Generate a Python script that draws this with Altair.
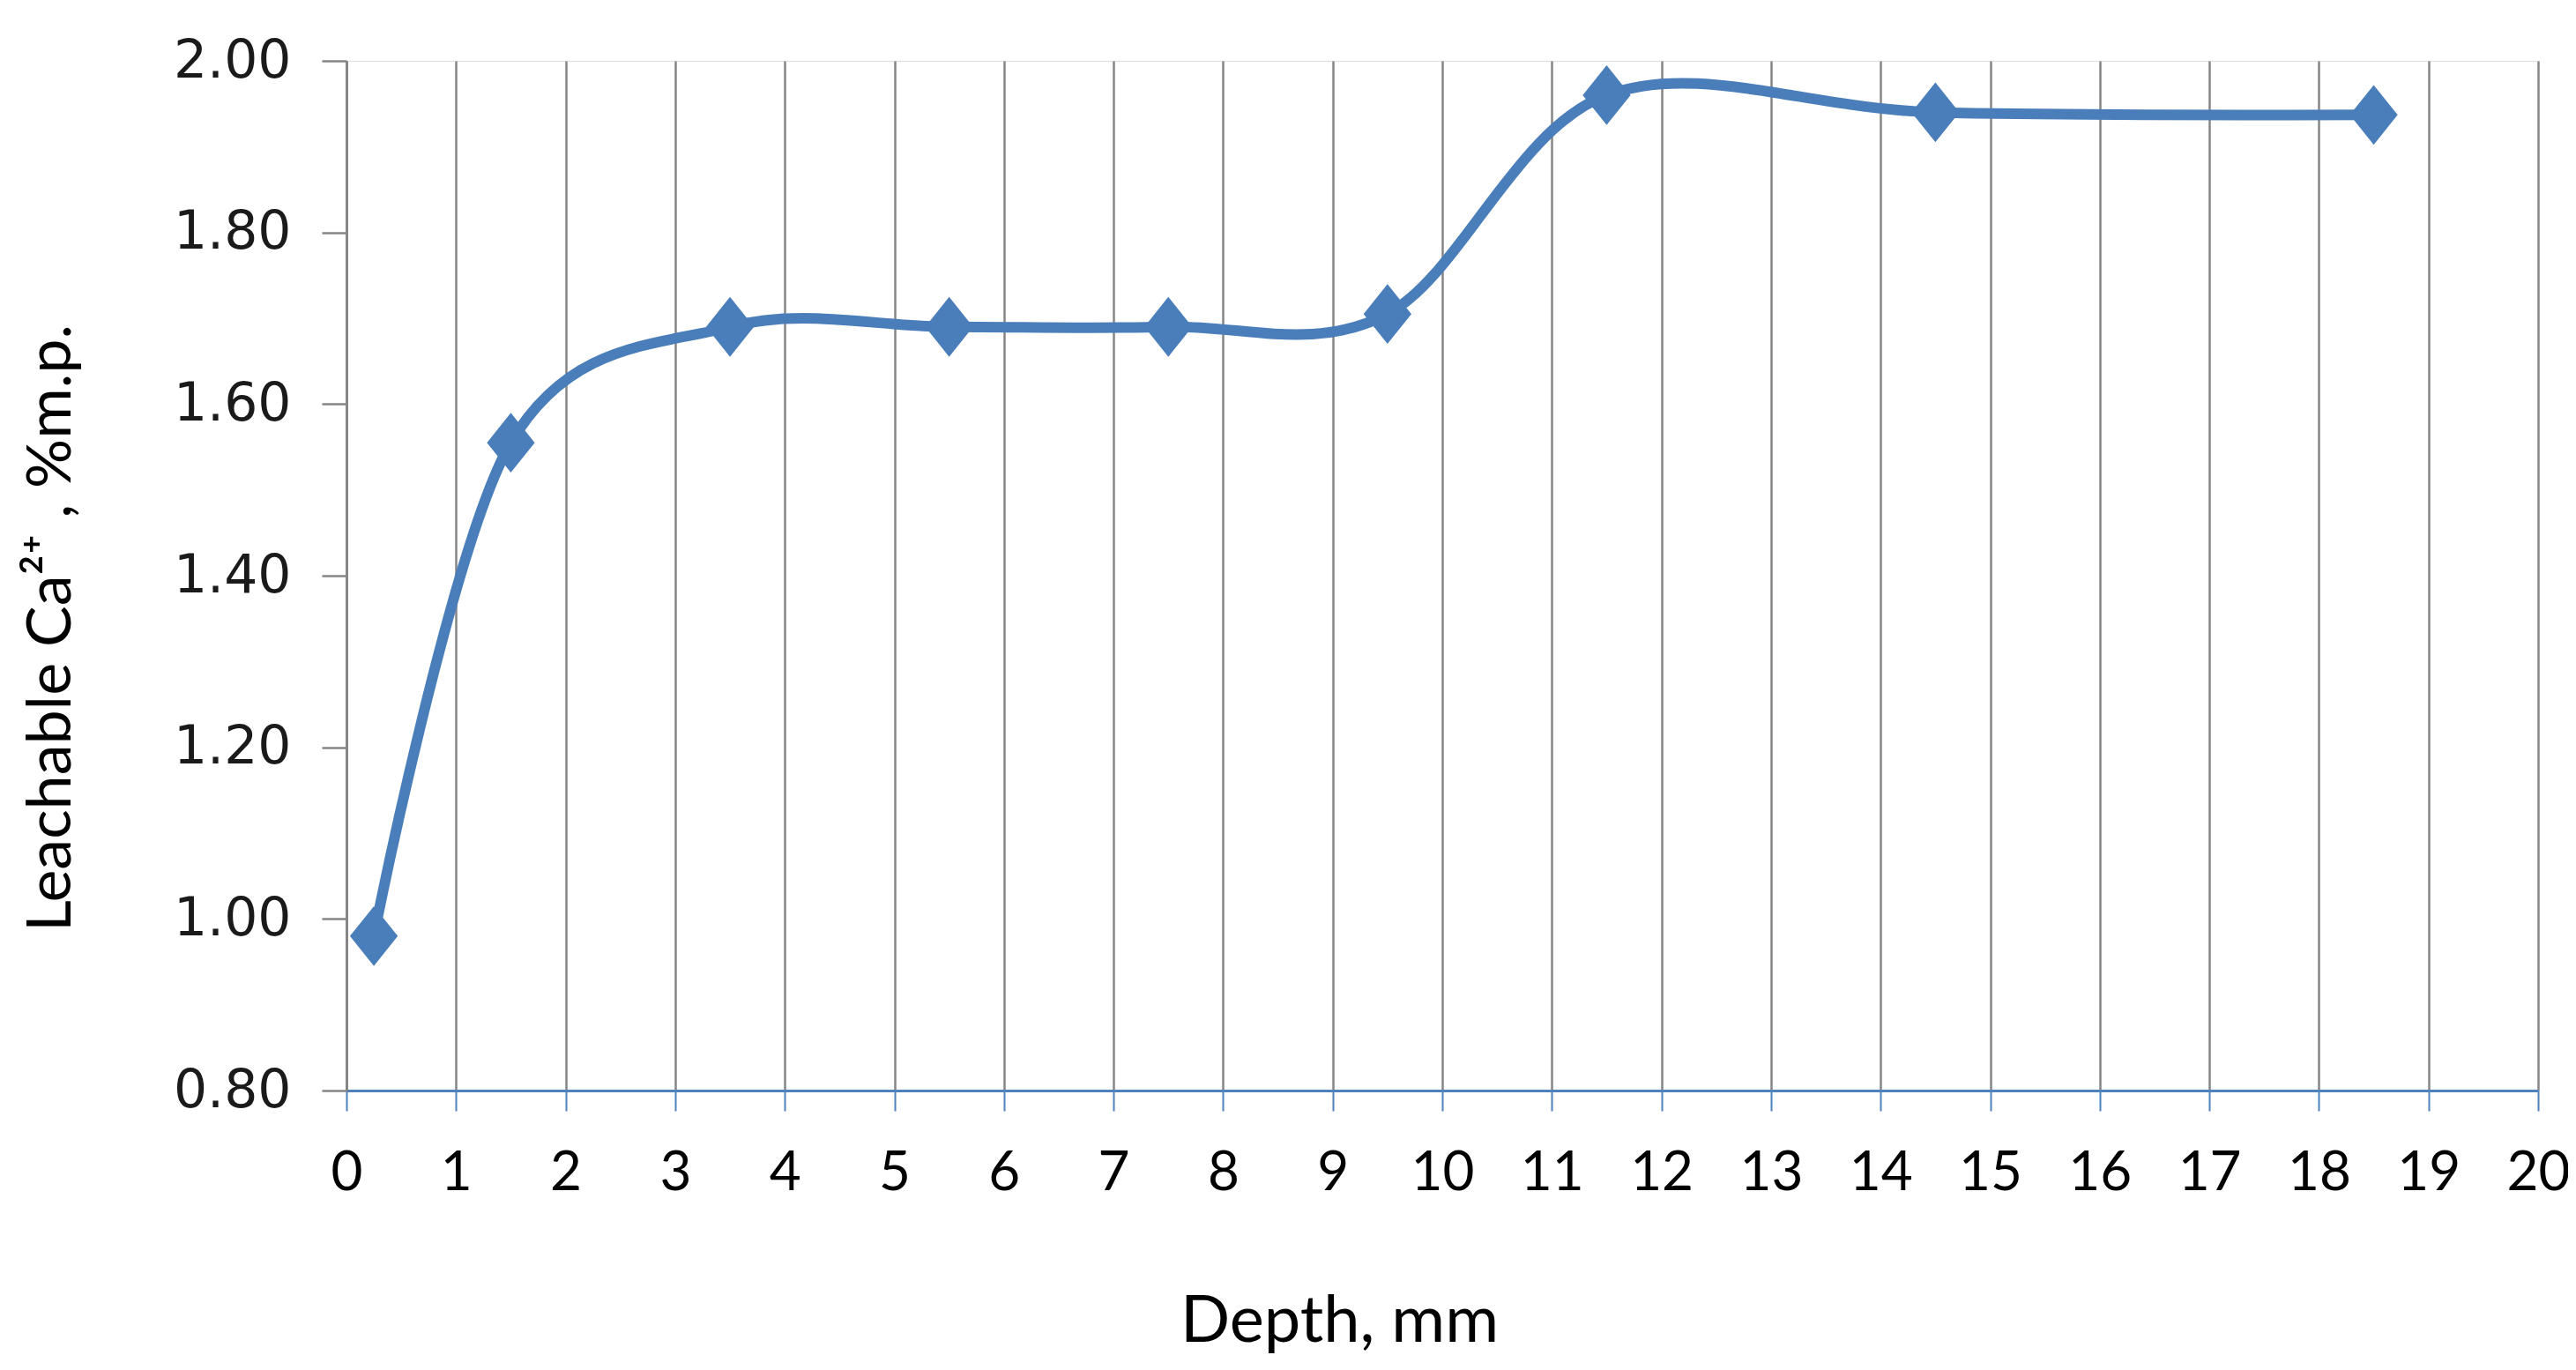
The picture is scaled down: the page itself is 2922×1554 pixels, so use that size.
import altair as alt
import pandas as pd

depth = [0.25, 1.5, 3.5, 5.5, 7.5, 9.5, 11.5, 14.5, 18.5]
calcium = [0.98, 1.555, 1.69, 1.69, 1.69, 1.705, 1.96, 1.94, 1.937]
x_ticks = list(range(0, 21))
y_ticks = [0.8, 1.0, 1.2, 1.4, 1.6, 1.8, 2.0]

df = pd.DataFrame({"depth": depth, "ca": calcium})

BLUE = "#4A7EBB"
GREY = "#868686"

x_enc = alt.X(
    "depth:Q",
    scale=alt.Scale(domain=[0, 20], nice=False, zero=False),
    axis=alt.Axis(
        values=x_ticks, format="d", title="Depth, mm",
        grid=True, gridColor=GREY, gridWidth=2.5,
        domainColor="#4F81BD", domainWidth=3,
        tickColor="#4F81BD", tickWidth=2, tickSize=23,
        labelFont="Lato", labelFontSize=62, labelColor="#000000",
        labelPadding=40, labelFlush=False,
        titleFont="Lato", titleFontSize=74, titleFontWeight="normal",
        titleColor="#000000", titleX=1126, titleY=284,
        titleAlign="center", titleBaseline="alphabetic",
    ),
)
y_enc = alt.Y(
    "ca:Q",
    scale=alt.Scale(domain=[0.8, 2.0], nice=False, zero=False),
    axis=alt.Axis(
        values=y_ticks, format=".2f", title="Leachable Ca²⁺ ,  %m.p.",
        grid=False,
        domainColor=GREY, domainWidth=3,
        tickColor=GREY, tickWidth=2.5, tickSize=28,
        labelFont="DejaVu Sans", labelFontSize=60, labelColor="#1a1a1a",
        labelPadding=35, labelFlush=False,
        titleFont="Lato", titleFontSize=70, titleFontWeight="normal",
        titleColor="#000000", titleX=-314, titleY=643, titleAngle=270,
        titleAlign="center", titleBaseline="alphabetic",
    ),
)

line = alt.Chart(df).mark_line(
    color=BLUE, strokeWidth=12, interpolate="cardinal", tension=0
).encode(x=x_enc, y=y_enc)

points = alt.Chart(df).mark_point(
    shape="M0,-1L0.8,0L0,1L-0.8,0Z", size=4600, filled=True,
    color=BLUE, opacity=1
).encode(x="depth:Q", y="ca:Q")

chart = (
    alt.layer(line, points)
    .properties(
        width=2486, height=1168,
        autosize=alt.AutoSizeParams(type="none"),
        padding={"left": 385, "top": 61, "right": 34, "bottom": 306},
    )
    .configure_view(stroke=None)
    .configure(background="white")
)

chart.save("out.html", embed_options={"renderer": "svg", "actions": False})
